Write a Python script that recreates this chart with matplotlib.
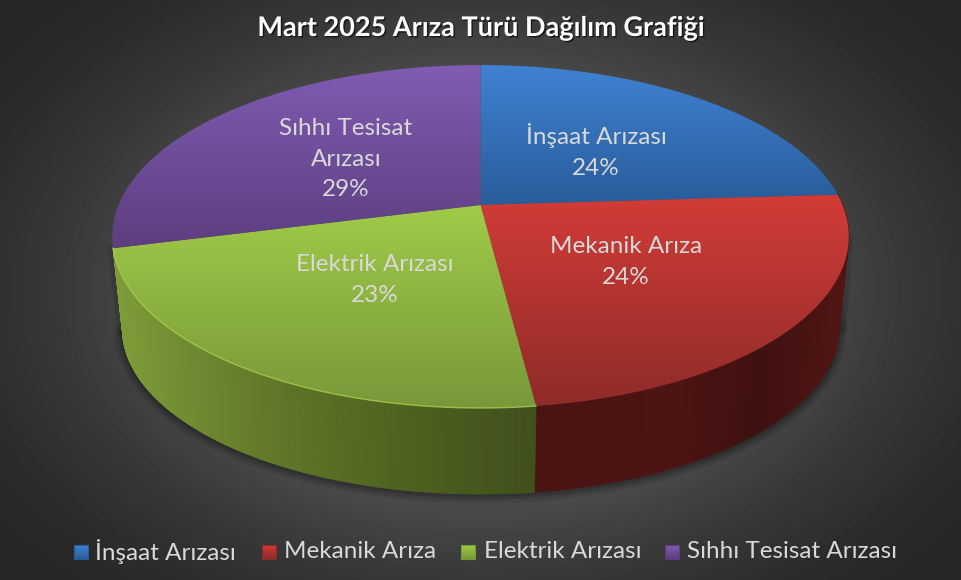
import numpy as np
import matplotlib
matplotlib.use("Agg")
import matplotlib.pyplot as plt
import matplotlib.patheffects as pe
from matplotlib.path import Path
from matplotlib.patches import PathPatch
from matplotlib.colors import to_rgb

# data
title = "Mart 2025 Arıza Türü Dağılım Grafiği"
categories = ["İnşaat Arızası", "Mekanik Arıza", "Elektrik Arızası", "Sıhhı Tesisat Arızası"]
values = [24, 24, 23, 29]

plt.rcParams["font.family"] = ["Lato", "DejaVu Sans"]

W, H = 962, 580
fig = plt.figure(figsize=(W / 100, H / 100), dpi=100)
ax = fig.add_axes([0, 0, 1, 1])
ax.axis("off")


def disc(theta, cy, a, b, p=0.1837, cx=480.5):
    # theta is clockwise from the back of the pie, p gives the perspective
    x = np.sin(theta)
    y = np.cos(theta)
    w = 1 + p * y
    return cx + a * x / w, cy - b * y / w


def top(theta):
    return disc(theta, 205, 362, 165.7)


def bottom(theta):
    return disc(theta, 298, 352, 160)


def vgrad(path, c1, c2, y1, y2, x1=0, x2=W, z=3):
    # vertical gradient clipped to a path
    c1, c2 = np.array(to_rgb(c1)), np.array(to_rgb(c2))
    t = np.linspace(0, 1, 256)[:, None, None]
    img = c1[None, None, :] * (1 - t) + c2[None, None, :] * t
    im = ax.imshow(img, extent=[x1, x2, y2, y1], aspect="auto", zorder=z, interpolation="bilinear")
    patch = PathPatch(path, transform=ax.transData, fc="none", ec="none")
    ax.add_patch(patch)
    im.set_clip_path(patch)


# background
yy, xx = np.mgrid[0:H, 0:W]
d = np.hypot((xx - 481) / 430, (yy - 290) / 290) / np.sqrt(2)
bg = np.interp(d, [0, 0.5, 0.7, 0.87, 1.0], [0.36, 0.30, 0.22, 0.17, 0.15])
ax.imshow(bg, cmap="gray", vmin=0, vmax=1, extent=[0, W, H, 0], aspect="auto", zorder=0)

# slice angles
edges = np.cumsum([0] + values) / sum(values) * 2 * np.pi

# soft shadow under the body
sh = np.linspace(edges[1] - 0.2, edges[3] + 0.05, 200)
sx, sy = bottom(sh)
for lw in [12, 8, 5, 3]:
    ax.plot(sx, sy + 1, color="black", lw=lw, alpha=0.09, zorder=1, solid_capstyle="round")
ax.plot([113, 122], [250, 330], color="black", lw=7, alpha=0.12, zorder=1)
ax.plot([848, 841], [240, 328], color="black", lw=7, alpha=0.12, zorder=1)

# side walls, shaded along x
wall_x = [
    [535, 680, 760, 850],
    [110, 200, 290, 420, 540],
]
wall_cols = [
    ["#4a1413", "#4c1413", "#3f1110", "#521614"],
    ["#7f9e3a", "#6f8a30", "#5e7527", "#4c601f", "#40501c"],
]
for k, i in enumerate([1, 2]):
    th = np.linspace(edges[i], edges[i + 1], 260)
    tx, ty = top(th)
    bx, by = bottom(th)
    cols = np.array([to_rgb(c) for c in wall_cols[k]])
    for j in range(len(th) - 1):
        mx = (tx[j] + bx[j]) / 2
        c = [np.interp(mx, wall_x[k], cols[:, n]) for n in range(3)]
        ax.fill([tx[j], tx[j + 1], bx[j + 1], bx[j]], [ty[j], ty[j + 1], by[j + 1], by[j]],
                fc=c, ec=c, lw=0.6, zorder=2)

# top faces
top_cols = [("#3f82d2", "#295c9a"), ("#d23c37", "#8e2b28"), ("#a0cb48", "#78983a"), ("#805cb2", "#5c3e7e")]
top_ext = [(65, 205), (195, 408), (205, 408), (65, 250)]
for i in range(4):
    th = np.linspace(edges[i], edges[i + 1], 160)
    x, y = top(th)
    cx0, cy0 = top(np.array([0.0]))[0][0], 205
    verts = np.column_stack([np.r_[cx0, x, cx0], np.r_[cy0, y, cy0]])
    vgrad(Path(verts), top_cols[i][0], top_cols[i][1], top_ext[i][0], top_ext[i][1], z=3 + i * 0.1)

# light rim on the front of the green slice
th = np.linspace(edges[2], edges[3], 200)
x, y = top(th)
ax.plot(x, y, color="#a8d04e", lw=1.0, alpha=0.8, zorder=4)

# labels on the slices
label_pos = [(596, 151), (626, 262), (375, 280), (346, 159)]
label_txt = ["İnşaat Arızası", "Mekanik Arıza", "Elektrik Arızası", "Sıhhı Tesisat\nArızası"]
for (lx, ly), txt, v in zip(label_pos, label_txt, values):
    ax.text(lx, ly, f"{txt}\n{v}%", color="#d9d9d9", fontsize=17.5, ha="center", va="center",
            linespacing=1.55, zorder=6)

ax.text(481, 28, title, color="white", fontsize=19.5, fontweight="bold", ha="center", va="center", zorder=6,
        path_effects=[pe.withSimplePatchShadow(offset=(1, -1), shadow_rgbFace="black", alpha=0.6)])

# legend
leg_marker = [74, 262, 461, 665]
leg_text = [95, 284, 484, 687]
for mx, tx0, name, c in zip(leg_marker, leg_text, categories, top_cols):
    box = Path([(mx, 545), (mx + 14, 545), (mx + 14, 559), (mx, 559), (mx, 545)])
    vgrad(box, c[0], c[1], 545, 559, z=5)
    ax.plot([mx, mx + 14, mx + 14, mx, mx], [545, 545, 559, 559, 545], color=c[1], lw=0.8, zorder=5.1)
    ax.text(tx0, 552, name, color="#d9d9d9", fontsize=17.5, ha="left", va="center", zorder=6)

ax.set_xlim(0, W)
ax.set_ylim(H, 0)
fig.savefig("out.png", dpi=100)
